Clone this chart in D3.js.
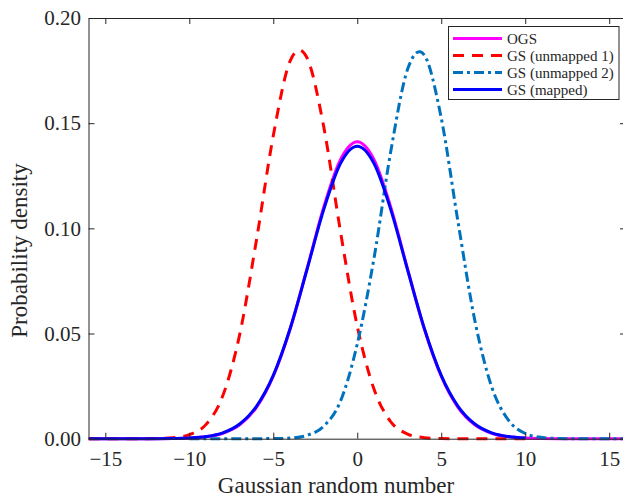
<!DOCTYPE html>
<html>
<head>
<meta charset="utf-8">
<script src="https://cdn.jsdelivr.net/npm/d3@7"></script>
<style>
  body { margin: 0; background: #fff; }
  svg { display: block; }
  text { font-family: "Liberation Serif", "Times New Roman", serif; fill: #262626; }
</style>
</head>
<body>
<svg width="623" height="499"></svg>
<script>
// sample positions along the x axis
var xGrid = [-16,-15,-14,-13,-12,-11,-10,-9,-8,-7,-6,-5,-4,-3,-2,-1,0,1,2,3,4,5,6,7,8,9,10,11,12,13,14,15,16];

// densities (null = not drawn there)
var ogs = [0,0,0,0,0,0.0001,0.0003,0.0009,0.0026,0.0066,0.0149,0.0297,0.0520,0.0805,0.1100,0.1327,0.1412,
           0.1327,0.1100,0.0805,0.0520,0.0297,0.0149,0.0066,0.0026,0.0009,0.0003,0.0001,0,0,0,0,0];
var unmapped1 = [0,0,0,0,0.0001,0.0004,0.0019,0.0068,0.0205,0.0495,0.0945,0.1440,0.1795,0.1812,0.1485,0.0985,0.0535,
                 0.0235,0.0080,0.0022,0.0005,0.0001,0,0,0,0,0,null,null,null,null,null,null];
var unmapped2 = [null,null,null,null,null,null,0,0,0,0,0,0.0001,0.0003,0.0016,0.0059,0.0178,0.0450,
                 0.0859,0.1368,0.1757,0.1823,0.1525,0.1030,0.0562,0.0247,0.0088,0.0025,0.0006,0.0001,0,0,0,0];
var mapped = [0,0,0,0,0,0.0001,0.0003,0.0010,0.0028,0.0070,0.0154,0.0301,0.0523,0.0802,0.1088,0.1308,0.1390,
              0.1308,0.1088,0.0802,0.0523,0.0301,0.0154,0.0070,0.0028,0.0010,0.0003,null,null,null,null,null,null];

var seriesNames = ["OGS", "GS (unmapped 1)", "GS (unmapped 2)", "GS (mapped)"];
var xTicks = [-15, -10, -5, 0, 5, 10, 15];
var yTicks = [0, 0.05, 0.10, 0.15, 0.20];

var series = [
  {name: seriesNames[0], values: ogs,       color: "#ff00ff", dash: null},
  {name: seriesNames[1], values: unmapped1, color: "#ff0000", dash: "11,8"},
  {name: seriesNames[2], values: unmapped2, color: "#0072bd", dash: "10,4,3,4"},
  {name: seriesNames[3], values: mapped,    color: "#0000ff", dash: null}
];

var svg = d3.select("svg"),
    margin = {top: 18, left: 88.5},
    width = 626 - margin.left,
    height = 438.7 - margin.top;

var x = d3.scaleLinear().domain([-16, 16]).range([0, width]);
var y = d3.scaleLinear().domain([0, 0.2]).range([height, 0]);

var g = svg.append("g")
    .attr("transform", "translate(" + margin.left + "," + margin.top + ")");

g.append("clipPath").attr("id", "plot-clip")
  .append("rect")
    .attr("x", 0).attr("y", -5)
    .attr("width", width).attr("height", height + 10);

//Curves
var line = d3.line()
    .defined(function(d) { return d[1] !== null; })
    .x(function(d) { return x(d[0]); })
    .y(function(d) { return y(d[1]); })
    .curve(d3.curveCardinal.tension(0));

var curves = g.append("g").attr("clip-path", "url(#plot-clip)");
series.forEach(function(s) {
  var pts = xGrid.map(function(xv, i) { return [xv, s.values[i]]; });
  curves.append("path")
    .datum(pts)
    .attr("fill", "none")
    .attr("stroke", s.color)
    .attr("stroke-width", 3)
    .attr("stroke-dasharray", s.dash)
    .attr("d", line);
});

//Axes (MATLAB style, ticks inward on all four sides)
var axisColor = "#262626";

var xAxis = g.append("g")
    .attr("transform", "translate(0," + height + ")")
    .call(d3.axisBottom(x).tickValues(xTicks).tickSizeInner(-6).tickSizeOuter(0));
xAxis.selectAll("text")
    .attr("y", 27.3).attr("dy", 0)
    .style("font-size", "21px");

g.append("g")
    .call(d3.axisTop(x).tickValues(xTicks).tickSizeInner(-6).tickSizeOuter(0).tickFormat(""));

var yAxis = g.append("g")
    .call(d3.axisLeft(y).tickValues(yTicks).tickSizeInner(-6).tickSizeOuter(0).tickPadding(7.5)
      .tickFormat(d3.format(".2f")));
yAxis.selectAll("text").style("font-size", "21px");

g.append("g")
    .attr("transform", "translate(" + width + ",0)")
    .call(d3.axisRight(y).tickValues(yTicks).tickSizeInner(-6).tickSizeOuter(0).tickFormat(""));

g.selectAll(".domain, .tick line").attr("stroke", axisColor);
g.selectAll(".tick text").attr("fill", axisColor).attr("font-family", null);

//Axis titles
svg.append("text")
    .attr("x", 336).attr("y", 493)
    .attr("text-anchor", "middle")
    .style("font-size", "23px")
    .text("Gaussian random number");

svg.append("text")
    .attr("transform", "translate(27,250.5) rotate(-90)")
    .attr("text-anchor", "middle")
    .style("font-size", "23px")
    .text("Probability density");

//Legend
var legend = svg.append("g");
legend.append("rect")
    .attr("x", 448.5).attr("y", 26.5)
    .attr("width", 170.5).attr("height", 73)
    .attr("fill", "#fff")
    .attr("stroke", axisColor);

series.forEach(function(s, i) {
  var ly = 38.5 + i * 17;
  legend.append("line")
    .attr("x1", 453).attr("x2", 502)
    .attr("y1", ly).attr("y2", ly)
    .attr("stroke", s.color)
    .attr("stroke-width", 3)
    .attr("stroke-dasharray", s.dash);
  legend.append("text")
    .attr("x", 507).attr("y", ly)
    .attr("dy", "0.35em")
    .style("font-size", "15px")
    .text(s.name);
});
</script>
</body>
</html>
